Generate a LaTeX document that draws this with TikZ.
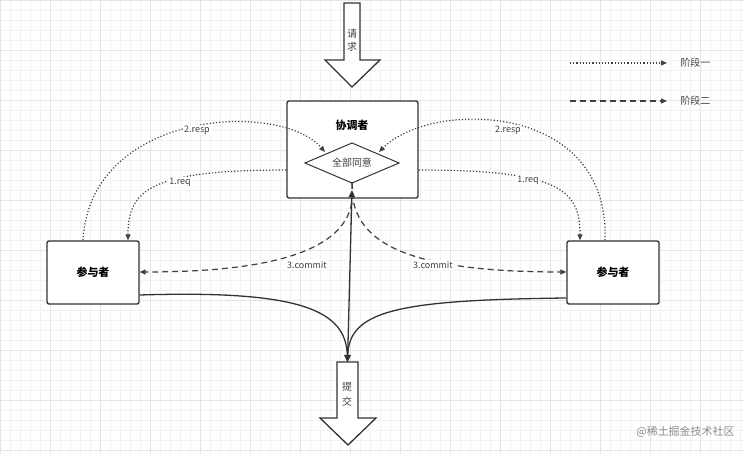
\documentclass[tikz,border=0pt]{standalone}
\usepackage{fontspec}
\setmainfont{Noto Sans CJK SC}
\usetikzlibrary{arrows.meta}
\begin{document}
\begin{tikzpicture}[x=1bp,y=-1bp,
  box/.style={draw=black!80,line width=1.4pt,rounded corners=2pt,fill=white},
  lbl/.style={font=\fontsize{9}{10}\selectfont,text=black!75,fill=white,inner sep=1pt},
  ph1/.style={dotted,line width=1.2pt,draw=black!75,-{Triangle[length=6pt,width=5pt]}},
  ph2/.style={dashed,dash pattern=on 6pt off 4pt,line width=1.2pt,draw=black!75,-{Triangle[length=6pt,width=5pt]}},
  solid2/.style={line width=1.3pt,draw=black!80,-{Triangle[length=7pt,width=6pt]}},
  bigarr/.style={draw=black!80,line width=1.3pt,fill=white}]
\useasboundingbox (0,0) rectangle (744,454);
\fill[white] (0,0) rectangle (744,454);
\foreach \i in {0,10,...,740} \draw[black!5,line width=0.4pt] (\i,0) -- (\i,454);
\foreach \i in {0,10,...,450} \draw[black!5,line width=0.4pt] (0,\i) -- (744,\i);
\foreach \i in {0,50,...,740} \draw[black!10,line width=0.5pt] (\i,0) -- (\i,454);
\foreach \i in {0,50,...,450} \draw[black!10,line width=0.5pt] (0,\i) -- (744,\i);
% top arrow
\draw[bigarr] (344,3) -- (360,3) -- (360,60) -- (380,60) -- (352,87) -- (325,60) -- (344,60) -- cycle;
\node[font=\fontsize{10}{11}\selectfont,text=black!75] (req) at (352,40) {\shortstack{请\\[1pt]求}};
% coordinator
\node[box,minimum width=131bp,minimum height=97bp] (coord) at (352.5,149.5) {};
\node[font=\bfseries\fontsize{11}{12}\selectfont] (ct) at (352,125) {协调者};
\draw[line width=1pt,draw=black!80] (305,163) coordinate (dl) -- (352,143) coordinate (dt) -- (399,163) coordinate (dr) -- (352,183) coordinate (db) -- cycle;
\node[font=\fontsize{10}{11}\selectfont,text=black!75] (agree) at (352,163) {全部同意};
\coordinate (dtl) at (325,152);
\coordinate (dtr) at (379,152);
% participants
\node[box,minimum width=92bp,minimum height=63bp,font=\bfseries\fontsize{11}{12}\selectfont] (pl) at (93,272.5) {参与者};
\node[box,minimum width=92bp,minimum height=63bp,font=\bfseries\fontsize{11}{12}\selectfont] (pr) at (613,272.5) {参与者};
% bottom arrow
\draw[bigarr] (337,362) -- (358,362) -- (358,418) -- (376,418) -- (348,445) -- (320,418) -- (337,418) -- cycle;
\node[font=\fontsize{10}{11}\selectfont,text=black!75] (commit) at (347,394) {\shortstack{提\\[3pt]交}};
\coordinate (ct2) at (347.5,362);
% phase 1
\draw[ph1] ([xshift=-10bp]pl.north) .. controls (90,110) and (280,100) .. (dtl);
\node[lbl] at (197,130) {2.resp};
\draw[ph1] (coord.west|-0,170) .. controls (150,170) and (128,190) .. ([xshift=35bp]pl.north);
\node[lbl] at (180,182) {1.req};
\draw[ph1] ([xshift=-8bp]pr.north) .. controls (610,100) and (430,100) .. (dtr);
\node[lbl] at (508,130) {2.resp};
\draw[ph1] (coord.east|-0,170) .. controls (560,170) and (580,190) .. ([xshift=-33bp]pr.north);
\node[lbl] at (528,180) {1.req};
% phase 2
\draw[ph2] (db) .. controls (360,240) and (300,272) .. (pl.east|-0,272);
\node[lbl] at (307,265) {3.commit};
\draw[ph2] (db) .. controls (350,240) and (400,272) .. (pr.west|-0,272);
\node[lbl] at (433,265) {3.commit};
% solid
\draw[solid2] (pl.east|-0,295) .. controls (300,290) and (346,310) .. (ct2);
\draw[solid2] (pr.west|-0,298) .. controls (400,300) and (349,310) .. (ct2);
\draw[line width=1.3pt,draw=black!80,{Triangle[length=7pt,width=6pt]}-{Triangle[length=7pt,width=6pt]}] (352,190) -- (ct2);
% legend
\coordinate (l1a) at (570,63); \coordinate (l1b) at (667,63);
\draw[ph1] (l1a) -- (l1b);
\node[font=\fontsize{10}{11}\selectfont,text=black!75,anchor=west] (leg1) at (677,63) {阶段一};
\coordinate (l2a) at (570,101); \coordinate (l2b) at (667,101);
\draw[ph2] (l2a) -- (l2b);
\node[font=\fontsize{10}{11}\selectfont,text=black!75,anchor=west] (leg2) at (677,101) {阶段二};
\node[font=\fontsize{11}{12}\selectfont,text=black!45,anchor=east] (wm) at (738,432) {@稀土掘金技术社区};
\end{tikzpicture}
\end{document}
